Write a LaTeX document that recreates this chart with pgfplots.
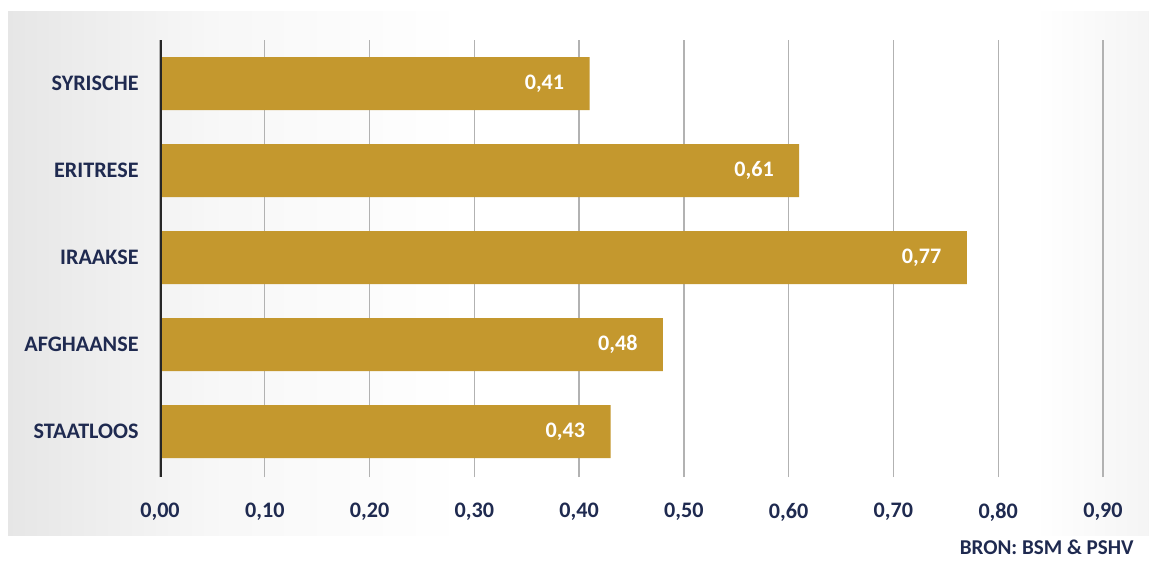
\documentclass[border=0pt]{standalone}
\usepackage{pgfplots}
\pgfplotsset{compat=1.18}
\usepackage{fontspec}
\setmainfont{Carlito}
\definecolor{navy}{HTML}{1F2A50}
\definecolor{gold}{HTML}{C4982E}
\pgfdeclarehorizontalshading{panel}{100bp}{color(0bp)=(black!20); color(18bp)=(black!15); color(34bp)=(black!3); color(45bp)=(white); color(70bp)=(white); color(82bp)=(black!10); color(100bp)=(black!22)}
\begin{document}
\begin{tikzpicture}
\path[use as bounding box] (0,0) rectangle (11.49,5.6);
\shade[shading=panel] (0.08,0.25) rectangle (11.49,5.48);
\begin{axis}[
  at={(1.6cm,0.83cm)}, anchor=south west, scale only axis,
  width=9.43cm, height=4.37cm,
  xmin=0, xmax=0.9, ymin=-0.52, ymax=4.5,
  xbar, bar width=5.3mm,
  axis line style={draw=none},
  major tick length=0pt,
  xtick={0,0.1,0.2,0.3,0.4,0.5,0.6,0.7,0.8,0.9},
  xmajorgrids, grid style={black!30, line width=0.4pt},
  ytick={0,1,2,3,4},
  yticklabels={STAATLOOS,AFGHAANSE,IRAAKSE,ERITRESE,SYRISCHE},
  ticklabel style={font=\bfseries\fontsize{6.3}{7}\selectfont, text=navy},
  xticklabel style={yshift=-1.35mm, /pgf/number format/.cd, use comma, fixed, fixed zerofill, precision=2, assume math mode=true},
  yticklabel style={xshift=-0.9mm},
  point meta=x,
  nodes near coords={\pgfmathprintnumber[use comma, fixed, fixed zerofill, precision=2, assume math mode=true]{\pgfplotspointmeta}},
  every node near coord/.style={anchor=east, xshift=-1.3mm, text=white, font=\bfseries\fontsize{6.3}{7}\selectfont},
]
\addplot[fill=gold, draw=none] coordinates {(0.43,0) (0.48,1) (0.77,2) (0.61,3) (0.41,4)};
\draw[black!85, line width=0.9pt] (rel axis cs:0,0) -- (rel axis cs:0,1);
\end{axis}
\node[anchor=east, text=navy, font=\bfseries\fontsize{6.0}{7}\selectfont] at (11.46,0.13) {BRON: BSM \& PSHV};
\end{tikzpicture}
\end{document}
